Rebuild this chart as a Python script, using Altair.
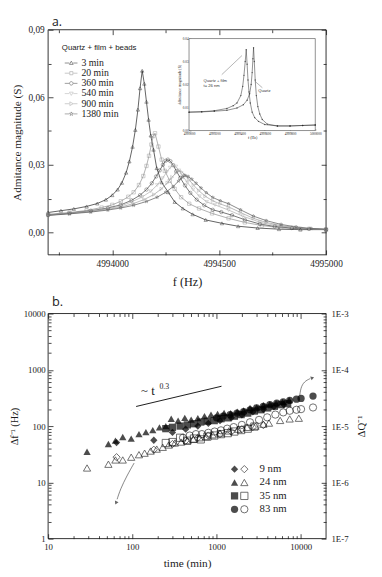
import altair as alt
import pandas as pd

SERIF = "Liberation Serif"
SANS = "Liberation Sans"
INK = "#1a1a1a"

# ---------------- panel a : admittance spectra ----------------
SERIES_A = ["3 min", "20 min", "360 min", "540 min", "900 min", "1380 min"]

F_3 = [4993700, 4993760, 4993820, 4993880, 4993930, 4993970, 4994000, 4994025, 4994045, 4994065,
       4994080, 4994095, 4994108, 4994120, 4994130, 4994140, 4994150, 4994160, 4994170, 4994180,
       4994193, 4994208, 4994231, 4994262, 4994292, 4994330, 4994376, 4994437, 4994513, 4994589,
       4994680, 4994780, 4994880, 4995000]
Y_3 = [0.0088, 0.0096, 0.0104, 0.0115, 0.0128, 0.0145, 0.0165, 0.0190, 0.0220, 0.0265,
       0.0315, 0.0380, 0.0455, 0.0545, 0.0640, 0.0718, 0.0660, 0.0580, 0.0500, 0.0430,
       0.0367, 0.0285, 0.0222, 0.0178, 0.0135, 0.0106, 0.0080, 0.0055, 0.0040, 0.0027,
       0.0019, 0.0014, 0.0012, 0.0012]

F_20 = [4993700, 4993800, 4993880, 4993950, 4994000, 4994040, 4994075, 4994100, 4994125, 4994145,
        4994160, 4994172, 4994183, 4994192, 4994200, 4994216, 4994231, 4994246, 4994269, 4994292,
        4994322, 4994360, 4994406, 4994467, 4994544, 4994620, 4994700, 4994790, 4994880, 4995000]
Y_20 = [0.0080, 0.0088, 0.0097, 0.0110, 0.0122, 0.0138, 0.0158, 0.0178, 0.0210, 0.0250,
        0.0295, 0.0340, 0.0390, 0.0428, 0.0440, 0.0381, 0.0323, 0.0273, 0.0229, 0.0193,
        0.0156, 0.0127, 0.0106, 0.0084, 0.0062, 0.0044, 0.0030, 0.0020, 0.0015, 0.0012]

F_360 = [4993700, 4993800, 4993900, 4993980, 4994040, 4994090, 4994130, 4994160, 4994185, 4994205,
         4994222, 4994237, 4994250, 4994260, 4994272, 4994285, 4994300, 4994318, 4994340, 4994365,
         4994395, 4994430, 4994470, 4994510, 4994560, 4994620, 4994690, 4994760, 4994840, 4994920,
         4995000]
Y_360 = [0.0077, 0.0085, 0.0096, 0.0108, 0.0122, 0.0142, 0.0165, 0.0190, 0.0218, 0.0248,
         0.0275, 0.0300, 0.0318, 0.0323, 0.0316, 0.0298, 0.0272, 0.0242, 0.0208, 0.0175,
         0.0145, 0.0120, 0.0100, 0.0090, 0.0076, 0.0056, 0.0037, 0.0026, 0.0019, 0.0015,
         0.0013]

F_540 = [4993700, 4993800, 4993900, 4993980, 4994040, 4994090, 4994140, 4994180, 4994210, 4994235,
         4994255, 4994270, 4994284, 4994298, 4994312, 4994330, 4994352, 4994378, 4994408, 4994442,
         4994480, 4994544, 4994610, 4994690, 4994760, 4994840, 4994920, 4995000]
Y_540 = [0.0076, 0.0084, 0.0094, 0.0105, 0.0117, 0.0135, 0.0157, 0.0182, 0.0210, 0.0240,
         0.0268, 0.0287, 0.0298, 0.0292, 0.0275, 0.0250, 0.0220, 0.0190, 0.0160, 0.0135,
         0.0122, 0.0099, 0.0072, 0.0045, 0.0031, 0.0022, 0.0016, 0.0013]

F_900 = [4993700, 4993800, 4993900, 4993980, 4994040, 4994100, 4994150, 4994195, 4994230, 4994258,
         4994280, 4994298, 4994311, 4994325, 4994340, 4994358, 4994380, 4994405, 4994435, 4994470,
         4994505, 4994544, 4994600, 4994660, 4994720, 4994790, 4994860, 4994930, 4995000]
Y_900 = [0.0076, 0.0083, 0.0092, 0.0102, 0.0112, 0.0128, 0.0146, 0.0168, 0.0193, 0.0220,
         0.0245, 0.0264, 0.0273, 0.0268, 0.0255, 0.0235, 0.0210, 0.0185, 0.0160, 0.0140,
         0.0126, 0.0113, 0.0088, 0.0062, 0.0044, 0.0030, 0.0021, 0.0016, 0.0013]

F_1380 = [4993700, 4993800, 4993900, 4993980, 4994040, 4994100, 4994160, 4994210, 4994250, 4994285,
          4994310, 4994328, 4994340, 4994355, 4994372, 4994392, 4994415, 4994440, 4994470, 4994505,
          4994544, 4994600, 4994660, 4994720, 4994790, 4994860, 4994930, 4995000]
Y_1380 = [0.0075, 0.0082, 0.0090, 0.0099, 0.0108, 0.0120, 0.0137, 0.0156, 0.0178, 0.0203,
          0.0228, 0.0245, 0.0252, 0.0248, 0.0236, 0.0218, 0.0197, 0.0176, 0.0155, 0.0140,
          0.0127, 0.0100, 0.0072, 0.0052, 0.0035, 0.0024, 0.0017, 0.0014]

A_XTICKS = [4994000, 4994500, 4995000]
A_XMINOR = [4993750, 4994250, 4994750]
A_YTICKS = [0.0, 0.03, 0.06, 0.09]
A_YMINOR = [0.015, 0.045, 0.075]
A_XDOM = [4993700, 4995000]
A_YDOM = [-0.01, 0.09]

# inset
INSET_CURVES = ["Quartz + film", "Quartz"]
INSET_F_FILM = [4999000, 4999100, 4999200, 4999300, 4999350, 4999380, 4999410, 4999425, 4999435, 4999445,
                4999453, 4999460, 4999467, 4999475, 4999485, 4999500, 4999520, 4999550, 4999600, 4999700,
                4999800, 4999900, 5000000]
INSET_Y_FILM = [0.0080, 0.0082, 0.0086, 0.0096, 0.0108, 0.0120, 0.0152, 0.0192, 0.0240, 0.0300,
                0.0352, 0.0288, 0.0220, 0.0168, 0.0120, 0.0080, 0.0056, 0.0040, 0.0026, 0.0020,
                0.0020, 0.0022, 0.0024]
INSET_F_QUARTZ = [4999000, 4999100, 4999200, 4999300, 4999380, 4999430, 4999460, 4999480, 4999492, 4999500,
                  4999506, 4999511, 4999517, 4999524, 4999533, 4999545, 4999560, 4999580, 4999620, 4999700,
                  4999800, 4999900, 5000000]
INSET_Y_QUARTZ = [0.0080, 0.0081, 0.0084, 0.0088, 0.0098, 0.0112, 0.0132, 0.0160, 0.0200, 0.0252,
                  0.0312, 0.0360, 0.0300, 0.0220, 0.0152, 0.0104, 0.0072, 0.0048, 0.0028, 0.0020,
                  0.0020, 0.0022, 0.0024]
INSET_XDOM = [4999000, 5000000]
INSET_YDOM = [0.0, 0.04]
INSET_XTICKS = [4999000, 4999200, 4999400, 4999600, 4999800, 5000000]
INSET_YTICKS = [0.0, 0.01, 0.02, 0.03, 0.04]
INSET_LABELS = ["Quartz + film", "t= 26 nm", "Quartz"]
INSET_LABEL_F = [4999115, 4999115, 4999548]
INSET_LABEL_Y = [0.0215, 0.0192, 0.0170]
INSET_LEAD_F1 = [4999259, 4999581]
INSET_LEAD_Y1 = [0.0243, 0.0186]
INSET_LEAD_F2 = [4999419, 4999522]
INSET_LEAD_Y2 = [0.0326, 0.0214]

# ---------------- panel b : time evolution ----------------
SIZES_B = ["9 nm", "24 nm", "35 nm", "83 nm"]
T_9F = [65, 180, 300, 430, 600, 800, 1100, 1500, 2000, 2700, 3600, 4800, 6300]
V_9F = [51, 56, 77, 88, 100, 112, 125, 140, 158, 178, 198, 220, 240]
T_9O = [65, 180, 300, 430, 600, 800, 1100, 1500, 2000, 2700, 3600]
Q_9O = [2.8e-6, 3.8e-6, 4.8e-6, 5.5e-6, 6.2e-6, 6.8e-6, 7.2e-6, 8.0e-6, 8.8e-6, 9.6e-6, 1.04e-5]

T_24F = [29, 52, 63, 77, 97, 120, 145, 175, 210, 250, 290, 350, 420, 500, 600, 720, 860, 1030, 1230,
         1470, 1760, 2100, 2500, 3000, 3600, 4300, 5100, 6100, 7300]
V_24F = [35, 48, 55, 64, 60, 72, 78, 85, 95, 100, 135, 125, 140, 130, 138, 150, 160, 165, 172,
         170, 180, 190, 210, 215, 235, 245, 255, 270, 290]
T_24O = [29, 52, 63, 77, 97, 120, 140, 165, 195, 230, 270, 320, 380, 450, 530, 630, 750, 900, 1100,
         1400, 1800, 2300, 2900, 3600, 4200, 5700, 7400, 9500]
Q_24O = [1.8e-6, 2.1e-6, 2.5e-6, 2.5e-6, 2.8e-6, 3.1e-6, 3.3e-6, 3.6e-6, 3.9e-6, 4.2e-6,
         4.6e-6, 5.0e-6, 5.2e-6, 5.5e-6, 5.8e-6, 6.2e-6, 6.5e-6, 7.0e-6, 7.5e-6, 8.2e-6,
         8.8e-6, 9.5e-6, 1.0e-5, 1.08e-5, 1.13e-5, 1.26e-5, 1.34e-5, 1.38e-5]

T_35F = [250, 300, 370, 450, 540, 650, 780, 940, 1130, 1360, 1630, 1960, 2350, 2820, 3380, 4060,
         4870, 5840, 7000]
V_35F = [90, 95, 100, 105, 110, 118, 122, 125, 135, 140, 150, 160, 170, 185, 195, 210, 225, 240, 250]
T_35O = [250, 300, 370, 450, 540, 650, 780, 940, 1130, 1360, 1630, 1960, 2350, 2820]
Q_35O = [5.0e-6, 5.2e-6, 6.2e-6, 5.5e-6, 6.0e-6, 5.8e-6, 6.5e-6, 6.8e-6, 7.2e-6, 7.5e-6,
         8.0e-6, 8.5e-6, 9.0e-6, 9.8e-6]

T_83F = [1000, 1200, 1450, 1750, 2100, 2500, 3000, 3600, 4300, 5200, 6200, 7400, 8900, 10100, 14000]
V_83F = [140, 150, 160, 170, 180, 195, 210, 225, 240, 255, 270, 285, 300, 310, 342]
T_83O = [400, 480, 570, 670, 800, 950, 1130, 1340, 1600, 2000, 2500, 3200, 4000, 5000, 6200,
         7400, 8900, 10100, 14000]
Q_83O = [6.2e-6, 6.8e-6, 7.2e-6, 7.2e-6, 7.6e-6, 8.0e-6, 8.4e-6, 9.0e-6, 9.6e-6, 1.05e-5,
         1.17e-5, 1.29e-5, 1.43e-5, 1.6e-5, 1.75e-5, 1.87e-5, 1.95e-5, 2.0e-5, 2.14e-5]

B_TDOM = [10, 20000]
B_VDOM = [1, 10000]
B_QDOM = [1e-7, 1e-3]
B_TTICKS = [10, 100, 1000, 10000]
B_TMINOR = [20, 30, 40, 50, 60, 70, 80, 90, 200, 300, 400, 500, 600, 700, 800, 900,
            2000, 3000, 4000, 5000, 6000, 7000, 8000, 9000]
B_VTICKS = [1, 10, 100, 1000, 10000]
B_VMINOR = [2, 3, 4, 5, 6, 7, 8, 9, 20, 30, 40, 50, 60, 70, 80, 90, 200, 300, 400, 500, 600, 700,
            800, 900, 2000, 3000, 4000, 5000, 6000, 7000, 8000, 9000]
B_QTICKS = [1e-7, 1e-6, 1e-5, 1e-4, 1e-3]
B_QMINOR = [2e-7, 3e-7, 4e-7, 5e-7, 6e-7, 7e-7, 8e-7, 9e-7, 2e-6, 3e-6, 4e-6, 5e-6, 6e-6, 7e-6,
            8e-6, 9e-6, 2e-5, 3e-5, 4e-5, 5e-5, 6e-5, 7e-5, 8e-5, 9e-5, 2e-4, 3e-4, 4e-4, 5e-4,
            6e-4, 7e-4, 8e-4, 9e-4]

TREND_T = [111, 1146]
TREND_V = [223, 510]
TREND_LABEL_T = [153]
TREND_LABEL_V = [350]
TREND_EXP_T = [240]
TREND_EXP_V = [460]
ARROW1_T = [105, 86, 72, 66]
ARROW1_V = [22, 13, 7.5, 5]
HEAD1_T = [64]
HEAD1_V = [4.3]
ARROW2_T = [9700, 10000, 11000, 13000]
ARROW2_V = [330, 480, 620, 700]
HEAD2_T = [13800]
HEAD2_V = [720]

# ---------------- layout / style constants ----------------
W = 284                      # plot width (both panels)
A_RANGE = [230, 0]           # vertical pixel band of panel a
B_RANGE = [520, 290]         # vertical pixel band of panel b
TOTAL_H = 520
COLORS_A = ["#1e1e1e", "#8c8c8c", "#3a3a3a", "#ababab", "#9c9c9c", "#555555"]
STAR = ("M0,-1L0.235,-0.324L0.951,-0.309L0.38,0.124L0.588,0.809L0,0.4L-0.588,0.809"
        "L-0.38,0.124L-0.951,-0.309L-0.235,-0.324Z")
SHAPES_A = ["triangle-up", "square", "circle", "triangle-down", "triangle-right", STAR]
LINE = "M-1,0H1.35M3.35,0H5.5"
LEG_PATHS_A = [
    LINE + "M2.35,-0.95L3.3,0.7H1.4Z",
    LINE + "M1.55,-0.8H3.15V0.8H1.55Z",
    LINE + "M3.25,0A0.9,0.9,0,1,1,1.45,0A0.9,0.9,0,1,1,3.25,0Z",
    LINE + "M2.35,0.95L3.3,-0.7H1.4Z",
    LINE + "M3.3,0L1.6,0.95V-0.95Z",
    LINE + "M2.35,-1L2.585,-0.324L3.301,-0.309L2.73,0.124L2.938,0.809L2.35,0.4L1.762,0.809"
           "L1.97,0.124L1.399,-0.309L2.115,-0.324Z",
]
SHAPES_B = ["diamond", "triangle-up", "square", "circle"]


def tick_axis(orient, values, size, shift=0):
    return alt.Axis(orient=orient, values=values, tickSize=size, offset=-size - shift,
                    labels=False, title=None)


# ---------------- scales ----------------
def xa(field="f", axis=None):
    return alt.X(field, type="quantitative", scale=alt.Scale(domain=A_XDOM, nice=False, zero=False), axis=axis)


def ya(field="Y", axis=None):
    return alt.Y(field, type="quantitative",
                 scale=alt.Scale(domain=A_YDOM, range=A_RANGE, nice=False, zero=False), axis=axis)


IX_RANGE = [144, 273]
IY_RANGE = [103, 9]


def xi(field, axis=None):
    return alt.X(field, type="quantitative",
                 scale=alt.Scale(domain=INSET_XDOM, range=IX_RANGE, nice=False, zero=False), axis=axis)


def yi(field, axis=None):
    return alt.Y(field, type="quantitative",
                 scale=alt.Scale(domain=INSET_YDOM, range=IY_RANGE, nice=False, zero=False), axis=axis)


def xb(field="t", axis=None):
    return alt.X(field, type="quantitative", scale=alt.Scale(type="log", domain=B_TDOM, nice=False), axis=axis)


def yb(field="v", axis=None):
    return alt.Y(field, type="quantitative",
                 scale=alt.Scale(type="log", domain=B_VDOM, range=B_RANGE, nice=False), axis=axis)


def qb(field="q", axis=None):
    return alt.Y(field, type="quantitative",
                 scale=alt.Scale(type="log", domain=B_QDOM, range=B_RANGE, nice=False), axis=axis)


A_BOTTOM_SHIFT = TOTAL_H - A_RANGE[0]   # panel a bottom edge sits this far above the view bottom
B_TOP_SHIFT = B_RANGE[1]                # panel b top edge sits this far below the view top

# ---------------- panel a layers ----------------
rows = []
for name, fs, ys in zip(SERIES_A, [F_3, F_20, F_360, F_540, F_900, F_1380],
                        [Y_3, Y_20, Y_360, Y_540, Y_900, Y_1380]):
    for f, y in zip(fs, ys):
        rows.append({"series": name, "f": f, "Y": y})
df_a = pd.DataFrame(rows)
corner_a = pd.DataFrame({"f": A_XDOM, "Y": A_YDOM})
box_a = pd.DataFrame({"x0": [A_XDOM[0]], "x1": [A_XDOM[1]], "y0": [A_YDOM[0]], "y1": [A_YDOM[1]]})

col_a = alt.Color("series:N", scale=alt.Scale(domain=SERIES_A, range=COLORS_A), legend=None)

frame_a = alt.Chart(box_a).mark_rect(fillOpacity=0, stroke=INK, strokeWidth=0.9).encode(
    x=xa("x0"), x2="x1", y=ya("y0"), y2="y1")
lines_a = alt.Chart(df_a).mark_line(strokeWidth=0.7).encode(
    x=xa("f", alt.Axis(orient="bottom", values=A_XTICKS, tickSize=5, offset=-5 - A_BOTTOM_SHIFT,
                       format="d", title="f (Hz)", labelFontSize=9.5, titleFontSize=12.5,
                       labelPadding=4, titlePadding=8)),
    y=ya("Y", alt.Axis(orient="left", values=A_YTICKS, tickSize=5, offset=-5,
                       labelExpr="replace(format(datum.value, '.2f'), '.', ',')",
                       title="Admitance magnitude (S)", labelFontSize=9.5, titleFontSize=11.5,
                       labelPadding=4, titlePadding=6)),
    color=col_a,
)
points_a = alt.Chart(df_a).mark_point(filled=False, size=12, strokeWidth=0.6).encode(
    x=xa("f", tick_axis("bottom", A_XMINOR, 3, A_BOTTOM_SHIFT)),
    y=ya("Y", tick_axis("left", A_YMINOR, 3)),
    color=col_a,
    shape=alt.Shape("series:N", scale=alt.Scale(domain=SERIES_A, range=SHAPES_A), legend=None),
)
mir_a1 = alt.Chart(corner_a).mark_point(opacity=0).encode(
    x=xa("f", tick_axis("top", A_XTICKS, 5)), y=ya("Y", tick_axis("right", A_YTICKS, 5)))
mir_a2 = alt.Chart(corner_a).mark_point(opacity=0).encode(
    x=xa("f", tick_axis("top", A_XMINOR, 3)), y=ya("Y", tick_axis("right", A_YMINOR, 3)))

LEG_A = alt.Legend(orient="none", legendX=14, legendY=15, title="Quartz + film + beads",
                   titleFont=SANS, titleFontSize=8, titleFontWeight="normal", titlePadding=6,
                   titleColor=INK, labelFont=SERIF, labelFontSize=10, labelOffset=10, symbolSize=16,
                   symbolStrokeWidth=0.7, rowPadding=0.4, padding=0)
leg_a = alt.Chart(pd.DataFrame({"series": SERIES_A})).mark_point(filled=False, clip=True).encode(
    x=alt.value(-40), y=alt.value(-40),
    shape=alt.Shape("series:N", scale=alt.Scale(domain=SERIES_A, range=LEG_PATHS_A), legend=LEG_A),
    color=alt.Color("series:N", scale=alt.Scale(domain=SERIES_A, range=COLORS_A), legend=LEG_A),
)

inset_box = pd.DataFrame({"x0": [INSET_XDOM[0]], "x1": [INSET_XDOM[1]],
                          "y0": [INSET_YDOM[0]], "y1": [INSET_YDOM[1]]})
inset_frame = alt.Chart(inset_box).mark_rect(fill="white", stroke="#444", strokeWidth=0.6).encode(
    x=xi("x0", alt.Axis(orient="bottom", values=INSET_XTICKS, format="d", tickSize=2,
                        offset=-(TOTAL_H - IY_RANGE[0]) - 2, labelFontSize=3.4, labelPadding=1,
                        title="f (Hz)", titleFontSize=4, titlePadding=1, tickWidth=0.4)),
    x2="x1",
    y=yi("y0", alt.Axis(orient="left", values=INSET_YTICKS, format=".2f", tickSize=2,
                        offset=-IX_RANGE[0] - 2, labelFontSize=3.4, labelPadding=1,
                        title="Admitance magnitude (S)", titleFontSize=4, titlePadding=1, tickWidth=0.4)),
    y2="y1",
)
irows = []
for name, fs, ys in zip(INSET_CURVES, [INSET_F_FILM, INSET_F_QUARTZ], [INSET_Y_FILM, INSET_Y_QUARTZ]):
    for f, y in zip(fs, ys):
        irows.append({"curve": name, "f": f, "Y": y})
df_in = pd.DataFrame(irows)
inset_lines = alt.Chart(df_in).mark_line(strokeWidth=0.5, color="#222").encode(
    x=xi("f"), y=yi("Y"), detail="curve:N")
inset_pts = alt.Chart(df_in).mark_point(filled=True, size=2, color="#222").encode(
    x=xi("f"), y=yi("Y"))
inset_txt = alt.Chart(pd.DataFrame({"label": INSET_LABELS, "f": INSET_LABEL_F, "Y": INSET_LABEL_Y})).mark_text(
    align="left", baseline="middle", font=SANS, fontSize=4.2, color="#333").encode(
    x=xi("f"), y=yi("Y"), text="label:N")
inset_lead = alt.Chart(pd.DataFrame({"f1": INSET_LEAD_F1, "y1": INSET_LEAD_Y1,
                                     "f2": INSET_LEAD_F2, "y2": INSET_LEAD_Y2})).mark_rule(
    strokeWidth=0.4, color="#444").encode(x=xi("f1"), x2="f2", y=yi("y1"), y2="y2")

label_a = alt.Chart(pd.DataFrame({"s": ["a."]})).mark_text(
    font="Open Sans", fontSize=12.5, color=INK, align="left", baseline="alphabetic").encode(
    x=alt.value(4), y=alt.value(-4), text="s:N")

# ---------------- panel b layers ----------------
frows, orows = [], []
for name, ts, vs in zip(SIZES_B, [T_9F, T_24F, T_35F, T_83F], [V_9F, V_24F, V_35F, V_83F]):
    for t, v in zip(ts, vs):
        frows.append({"size": name, "t": t, "v": v})
for name, ts, qs in zip(SIZES_B, [T_9O, T_24O, T_35O, T_83O], [Q_9O, Q_24O, Q_35O, Q_83O]):
    for t, q in zip(ts, qs):
        orows.append({"size": name, "t": t, "q": q})
df_bf = pd.DataFrame(frows)
df_bo = pd.DataFrame(orows)
corner_b = pd.DataFrame({"t": B_TDOM, "v": B_VDOM, "q": B_QDOM})
box_b = pd.DataFrame({"x0": [B_TDOM[0]], "x1": [B_TDOM[1]], "y0": [B_VDOM[0]], "y1": [B_VDOM[1]]})

shape_b = alt.Shape("size:N", scale=alt.Scale(domain=SIZES_B, range=SHAPES_B), legend=None)

frame_b = alt.Chart(box_b).mark_rect(fillOpacity=0, stroke=INK, strokeWidth=0.9).encode(
    x=xb("x0"), x2="x1", y=yb("y0"), y2="y1")
open_b = alt.Chart(df_bo).mark_point(filled=False, size=55, color="black", strokeWidth=0.8).encode(
    x=xb("t", tick_axis("bottom", B_TMINOR, 3)),
    y=qb("q", alt.Axis(orient="right", values=B_QTICKS, tickSize=5, offset=-5,
                       labelExpr="'1E' + round(log(datum.value) / LN10)", title="ΔQ⁻¹",
                       titleAngle=270, titleBaseline="top",
                       labelFontSize=9, titleFontSize=11, labelPadding=5, titlePadding=8)),
    shape=shape_b,
)
filled_b = alt.Chart(df_bf).mark_point(filled=True, size=55, color="black").encode(
    x=xb("t", alt.Axis(orient="bottom", values=B_TTICKS, tickSize=5, offset=-5, format="d",
                       title="time (min)", labelFontSize=9, titleFontSize=11.5, labelPadding=4,
                       titlePadding=7)),
    y=yb("v", alt.Axis(orient="left", values=B_VTICKS, tickSize=5, offset=-5, format="d",
                       title="Δf⁻¹ (Hz)", labelFontSize=9, titleFontSize=10.5, labelPadding=3,
                       titlePadding=4)),
    shape=shape_b,
)
mir_b1 = alt.Chart(corner_b).mark_point(opacity=0).encode(
    x=xb("t", tick_axis("top", B_TTICKS, 5, B_TOP_SHIFT)), y=yb("v", tick_axis("left", B_VMINOR, 3)))
mir_b2 = alt.Chart(corner_b).mark_point(opacity=0).encode(
    x=xb("t", tick_axis("top", B_TMINOR, 3, B_TOP_SHIFT)), y=qb("q", tick_axis("right", B_QMINOR, 3)))

trend = alt.Chart(pd.DataFrame({"t": TREND_T, "v": TREND_V})).mark_line(
    color=INK, strokeWidth=1).encode(x=xb(), y=yb())
trend_txt = alt.Chart(pd.DataFrame({"t": TREND_LABEL_T, "v": TREND_LABEL_V, "s": ["~ t"]})).mark_text(
    font=SERIF, fontSize=13, color=INK, align="center", baseline="alphabetic").encode(
    x=xb(), y=yb(), text="s:N")
trend_exp = alt.Chart(pd.DataFrame({"t": TREND_EXP_T, "v": TREND_EXP_V, "s": ["0.3"]})).mark_text(
    font=SERIF, fontSize=8, color=INK, align="center", baseline="alphabetic").encode(
    x=xb(), y=yb(), text="s:N")
arrow1 = alt.Chart(pd.DataFrame({"t": ARROW1_T, "v": ARROW1_V, "o": [0, 1, 2, 3]})).mark_line(
    color="#333", strokeWidth=0.6, interpolate="basis").encode(x=xb(), y=yb(), order="o:Q")
head1 = alt.Chart(pd.DataFrame({"t": HEAD1_T, "v": HEAD1_V})).mark_point(
    shape="triangle-up", filled=True, size=16, color="#222", angle=205).encode(x=xb(), y=yb())
arrow2 = alt.Chart(pd.DataFrame({"t": ARROW2_T, "v": ARROW2_V, "o": [0, 1, 2, 3]})).mark_line(
    color="#333", strokeWidth=0.6, interpolate="basis").encode(x=xb(), y=yb(), order="o:Q")
head2 = alt.Chart(pd.DataFrame({"t": HEAD2_T, "v": HEAD2_V})).mark_point(
    shape="triangle-up", filled=True, size=16, color="#222", angle=70).encode(x=xb(), y=yb())

# legend of panel b (filled / open symbol pair + size label per row)
LEG_B_ROWS = [449, 490]      # first / last legend row (pixels)
leg_df = pd.DataFrame({"size": SIZES_B})
leg_y = alt.Y("size:N", scale=alt.Scale(type="point", domain=SIZES_B, range=LEG_B_ROWS, padding=0), axis=None)
leg_b_filled = alt.Chart(leg_df).mark_point(filled=True, size=55, color="black").encode(
    x=alt.value(190.5), y=leg_y, shape=shape_b)
leg_b_open = alt.Chart(leg_df).mark_point(filled=False, size=55, color="black", strokeWidth=0.8).encode(
    x=alt.value(200.5), y=leg_y, shape=shape_b)
leg_b_text = alt.Chart(leg_df).mark_text(
    font=SERIF, fontSize=11, color=INK, align="left", baseline="middle").encode(
    x=alt.value(216), y=leg_y, text="size:N")

label_b = alt.Chart(pd.DataFrame({"s": ["b."]})).mark_text(
    font="Open Sans", fontSize=13, color=INK, align="left", baseline="alphabetic").encode(
    x=alt.value(4), y=alt.value(282), text="s:N")

chart = alt.layer(
    frame_a, lines_a, points_a, mir_a1, mir_a2, leg_a,
    inset_frame, inset_lines, inset_pts, inset_txt, inset_lead, label_a,
    frame_b, open_b, filled_b, mir_b1, mir_b2, trend, trend_txt, trend_exp,
    arrow1, head1, arrow2, head2, leg_b_filled, leg_b_open, leg_b_text, label_b,
).resolve_scale(
    x="independent", y="independent", color="independent", shape="independent"
).resolve_axis(x="independent", y="independent").properties(
    width=W, height=TOTAL_H,
    autosize=alt.AutoSizeParams(type="none"),
    padding={"left": 41, "top": 16, "right": 49, "bottom": 33},
).configure(font=SERIF).configure_view(stroke="transparent").configure_axis(
    domain=False, grid=False, labelFont=SERIF, titleFont=SERIF, labelColor=INK, titleColor=INK,
    tickColor=INK, tickWidth=0.8, titleFontWeight="normal", labelFlush=False, labelOverlap=False,
).configure_legend(titleFontWeight="normal", labelColor=INK, titleColor=INK)

chart.save("out.html", embed_options={"renderer": "svg", "actions": False})
